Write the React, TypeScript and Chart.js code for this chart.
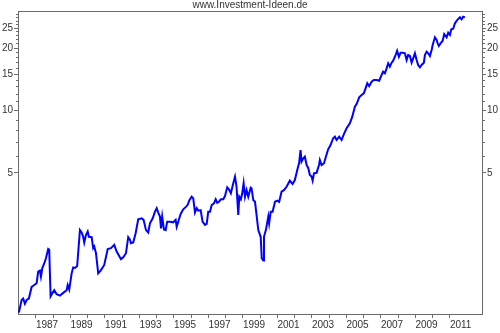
import { useEffect, useRef } from 'react';
import { Chart, registerables } from 'chart.js';

Chart.register(...registerables);

const titleText = 'www.Investment-Ideen.de';

const years = [
  1986.01, 1986.17, 1986.26, 1986.36, 1986.46, 1986.59, 1986.75, 1986.9, 1987.04, 1987.13,
  1987.23, 1987.29, 1987.37, 1987.48, 1987.58, 1987.71, 1987.77, 1987.85, 1987.94, 1988.06,
  1988.2, 1988.39, 1988.58, 1988.78, 1988.84, 1988.93, 1989.07, 1989.16, 1989.26, 1989.39,
  1989.55, 1989.65, 1989.74, 1989.8, 1989.9, 1990.0, 1990.07, 1990.23, 1990.32, 1990.38,
  1990.48, 1990.61, 1990.77, 1990.96, 1991.16, 1991.35, 1991.54, 1991.68, 1991.93, 1992.06,
  1992.22, 1992.35, 1992.45, 1992.51, 1992.64, 1992.78, 1992.93, 1993.13, 1993.24, 1993.38,
  1993.51, 1993.61, 1993.77, 1993.9, 1994.0, 1994.09, 1994.19, 1994.25, 1994.32, 1994.42,
  1994.52, 1994.61, 1994.77, 1994.96, 1995.1, 1995.16, 1995.25, 1995.39, 1995.54, 1995.68,
  1995.79, 1995.89, 1996.03, 1996.12, 1996.22, 1996.32, 1996.41, 1996.55, 1996.66, 1996.8,
  1996.9, 1996.99, 1997.09, 1997.19, 1997.32, 1997.42, 1997.51, 1997.61, 1997.72, 1997.86,
  1997.96, 1998.09, 1998.19, 1998.3, 1998.44, 1998.54, 1998.63, 1998.73, 1998.79, 1998.88,
  1998.96, 1999.04, 1999.12, 1999.21, 1999.31, 1999.45, 1999.5, 1999.6, 1999.7, 1999.79,
  1999.89, 2000.03, 2000.09, 2000.18, 2000.22, 2000.33, 2000.47, 2000.52, 2000.61, 2000.72,
  2000.86, 2000.99, 2001.1, 2001.24, 2001.39, 2001.53, 2001.72, 2001.88, 2002.01, 2002.15,
  2002.26, 2002.34, 2002.4, 2002.5, 2002.59, 2002.69, 2002.79, 2002.88, 2002.98, 2003.04,
  2003.12, 2003.27, 2003.41, 2003.46, 2003.56, 2003.7, 2003.81, 2003.94, 2004.08, 2004.23,
  2004.33, 2004.43, 2004.58, 2004.72, 2004.86, 2005.01, 2005.2, 2005.34, 2005.49, 2005.59,
  2005.74, 2005.88, 2006.01, 2006.13, 2006.21, 2006.32, 2006.46, 2006.59, 2006.75, 2006.9,
  2007.04, 2007.13, 2007.23, 2007.33, 2007.42, 2007.52, 2007.62, 2007.71, 2007.85, 2007.94,
  2008.04, 2008.14, 2008.29, 2008.39, 2008.49, 2008.58, 2008.68, 2008.78, 2008.87, 2008.97,
  2009.07, 2009.16, 2009.26, 2009.36, 2009.49, 2009.55, 2009.65, 2009.74, 2009.84, 2009.94,
  2010.0, 2010.13, 2010.23, 2010.29, 2010.36, 2010.46, 2010.58, 2010.67, 2010.81, 2010.9,
  2011.0, 2011.08, 2011.19, 2011.29, 2011.42, 2011.58, 2011.68, 2011.77, 2011.87,
];

const values = [
  1.06, 1.22, 1.24, 1.17, 1.22, 1.24, 1.41, 1.44, 1.47, 1.67,
  1.69, 1.58, 1.74, 1.83, 1.94, 2.15, 2.13, 1.27, 1.31, 1.36,
  1.3, 1.28, 1.32, 1.36, 1.44, 1.37, 1.64, 1.75, 1.74, 1.78,
  2.65, 2.58, 2.46, 2.31, 2.51, 2.61, 2.46, 2.45, 2.17, 2.21,
  2.05, 1.64, 1.7, 1.8, 2.15, 2.17, 2.25, 2.09, 1.92, 1.96,
  2.05, 2.45, 2.38, 2.29, 2.31, 2.56, 2.99, 3.02, 2.97, 2.65,
  2.58, 2.86, 3.02, 3.25, 3.38, 3.22, 3.08, 2.7, 3.08, 2.67,
  2.65, 2.91, 2.91, 2.89, 2.97, 2.75, 2.91, 3.17, 3.34, 3.42,
  3.5, 3.68, 3.84, 3.77, 3.22, 3.38, 3.29, 3.31, 2.91, 2.81,
  2.84, 3.25, 3.25, 3.5, 3.57, 3.73, 3.59, 3.63, 3.73, 3.73,
  3.87, 4.26, 4.17, 3.99, 4.46, 4.8, 4.29, 3.14, 3.84, 3.73,
  3.99, 4.46, 3.84, 4.14, 3.84, 4.25, 4.22, 3.7, 3.63, 3.14,
  2.65, 2.46, 1.94, 1.89, 2.46, 2.65, 3.08, 2.86, 3.25, 3.25,
  3.63, 3.68, 3.63, 4.06, 4.14, 4.29, 4.59, 4.42, 4.62, 5.17,
  5.6, 6.45, 5.67, 5.88, 5.99, 5.46, 5.27, 4.89, 4.8, 4.59,
  4.98, 5.01, 5.46, 5.77, 5.46, 5.57, 5.99, 6.5, 6.82, 7.35,
  7.48, 7.21, 7.48, 7.21, 7.71, 8.21, 8.68, 9.34, 10.43, 10.75,
  11.58, 11.88, 12.11, 12.94, 13.53, 13.13, 13.77, 14.04, 14.04, 13.93,
  14.84, 15.39, 15.12, 15.98, 16.89, 16.27, 17.01, 17.39, 18.52, 19.43,
  18.18, 19.0, 19.0, 18.88, 17.52, 18.52, 18.32, 17.01, 17.86, 18.88,
  17.52, 16.58, 16.16, 16.58, 17.01, 18.52, 19.22, 18.88, 18.32, 19.58,
  20.7, 22.55, 21.88, 21.09, 20.47, 21.09, 21.71, 23.39, 22.55, 23.73,
  23.13, 24.64, 24.81, 26.34, 27.32, 28.15, 27.53, 28.34, 28.15,
];

const yMajorTicks = [5, 10, 15, 20, 25];
const yMinorTicks = [6, 7, 8, 9, 11, 12, 13, 14, 16, 17, 18, 19, 21, 22, 23, 24, 26, 27, 28, 29];
const xTickYears = [
  1987, 1988, 1989, 1990, 1991, 1992, 1993, 1994, 1995, 1996, 1997, 1998, 1999,
  2000, 2001, 2002, 2003, 2004, 2005, 2006, 2007, 2008, 2009, 2010, 2011,
];
const xLabelYears = [1987, 1989, 1991, 1993, 1995, 1997, 1999, 2001, 2003, 2005, 2007, 2009, 2011];

const X_MIN = 1985.96;
const X_MAX = 2012.86;
const Y_MIN = 1.044;
const Y_MAX = 30.2;

const AXIS_COLOR = '#6a6a6a';
const TEXT_COLOR = '#333333';
const FONT_FAMILY = '"Liberation Sans", Arial, sans-serif';

function yAxis(position: 'left' | 'right') {
  const allTicks = [...yMajorTicks, ...yMinorTicks].sort((a, b) => a - b);
  const isMajor = (ctx: any) => yMajorTicks.includes(ctx?.tick?.value);
  return {
    type: 'logarithmic' as const,
    position,
    min: Y_MIN,
    max: Y_MAX,
    afterBuildTicks: (scale: any) => {
      scale.ticks = allTicks.map((v) => ({ value: v, major: yMajorTicks.includes(v) }));
    },
    afterFit: (scale: any) => {
      scale.width = 18;
    },
    ticks: {
      autoSkip: false,
      padding: 1,
      color: TEXT_COLOR,
      font: { family: FONT_FAMILY, size: 10 },
      callback: (value: any) => (yMajorTicks.includes(Number(value)) ? String(value) : ''),
    },
    grid: {
      display: true,
      drawOnChartArea: false,
      drawTicks: true,
      tickLength: 4,
      tickColor: AXIS_COLOR,
      tickWidth: 1,
      tickBorderDash: (ctx: any) => (isMajor(ctx) ? [] : [2, 2]),
      tickBorderDashOffset: (ctx: any) => (isMajor(ctx) ? 0 : position === 'left' ? 2 : 0),
    },
    border: { display: true, color: AXIS_COLOR, width: 1 },
  };
}

export default function App() {
  const canvasRef = useRef<HTMLCanvasElement | null>(null);

  useEffect(() => {
    if (!canvasRef.current) return;
    const chart = new Chart(canvasRef.current, {
      type: 'line',
      data: {
        datasets: [
          {
            data: years.map((x, i) => ({ x, y: values[i] })),
            borderColor: '#0000ff',
            borderWidth: 2,
            pointRadius: 0,
            tension: 0,
            fill: false,
            xAxisID: 'x',
            yAxisID: 'y',
          },
        ],
      },
      options: {
        responsive: false,
        animation: false,
        layout: { padding: 0 },
        plugins: {
          legend: { display: false },
          tooltip: { enabled: false },
          title: {
            display: true,
            text: titleText,
            color: TEXT_COLOR,
            font: { family: FONT_FAMILY, size: 10, weight: 'normal', lineHeight: 1.1 },
            padding: { top: 0, bottom: 0 },
          },
        },
        scales: {
          x: {
            type: 'linear',
            position: 'bottom',
            min: X_MIN,
            max: X_MAX,
            bounds: 'data',
            afterBuildTicks: (scale: any) => {
              scale.ticks = xTickYears.map((v) => ({ value: v }));
            },
            afterFit: (scale: any) => {
              scale.height = 19;
            },
            ticks: {
              autoSkip: false,
              maxRotation: 0,
              minRotation: 0,
              align: 'start',
              padding: 1,
              color: TEXT_COLOR,
              font: { family: FONT_FAMILY, size: 10 },
              callback: (value: any) => (xLabelYears.includes(Number(value)) ? String(value) : ''),
            },
            grid: {
              display: true,
              drawOnChartArea: false,
              drawTicks: true,
              tickLength: 4,
              tickColor: AXIS_COLOR,
            },
            border: { display: true, color: AXIS_COLOR, width: 1 },
          },
          xTop: {
            type: 'linear',
            position: 'top',
            min: X_MIN,
            max: X_MAX,
            ticks: { display: false },
            grid: { display: true, drawOnChartArea: false, drawTicks: false },
            border: { display: true, color: AXIS_COLOR, width: 1 },
          },
          y: yAxis('left'),
          y2: yAxis('right'),
        },
      } as any,
    });
    return () => chart.destroy();
  }, []);

  return (
    <div style={{ position: 'fixed', left: 0, top: 0, width: 500, height: 333, background: '#ffffff' }}>
      <canvas ref={canvasRef} width={500} height={333} style={{ display: 'block' }} />
    </div>
  );
}
